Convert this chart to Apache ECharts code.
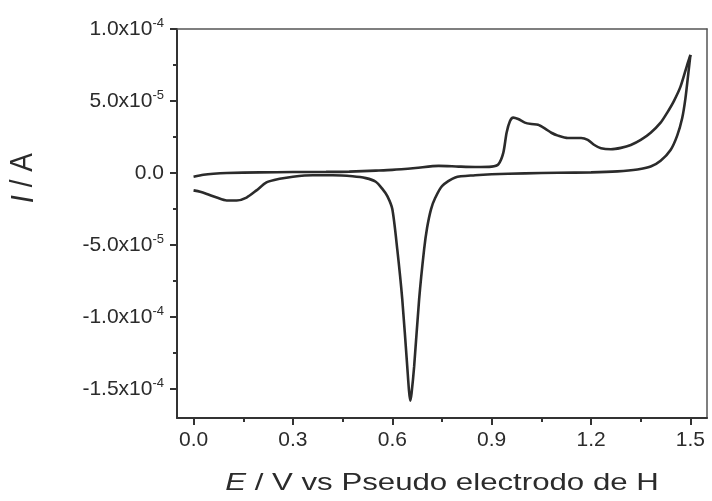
<!DOCTYPE html>
<html>
<head>
<meta charset="utf-8">
<script src="https://cdn.jsdelivr.net/npm/echarts@6/dist/echarts.min.js"></script>
<style>
  html, body { margin: 0; padding: 0; background: #fff; }
  #chart { width: 712px; height: 501px; }
</style>
</head>
<body>
<div id="chart"></div>
<script>
// Cyclic voltammogram: current I (A) vs potential E (V vs pseudo H electrode)
// Currents are listed in units of 1e-5 A.
const CURRENT_UNIT = 1e-5;

// Anodic (forward) scan, 0.0 V -> 1.5 V
const anodicE = [0.00, 0.03, 0.06, 0.10, 0.20, 0.30, 0.40, 0.47, 0.55, 0.60, 0.67, 0.74, 0.80, 0.85,
  0.90, 0.92, 0.935, 0.945, 0.955, 0.965, 0.98, 1.00, 1.02, 1.04, 1.06, 1.08, 1.10, 1.13, 1.17,
  1.19, 1.21, 1.23, 1.26, 1.29, 1.32, 1.35, 1.38, 1.41, 1.43, 1.45, 1.47, 1.49, 1.50];
const anodicI = [-0.25, -0.12, -0.05, 0.00, 0.05, 0.07, 0.08, 0.10, 0.17, 0.22, 0.35, 0.50, 0.45, 0.42,
  0.45, 0.60, 1.40, 2.80, 3.60, 3.85, 3.75, 3.50, 3.40, 3.35, 3.10, 2.80, 2.60, 2.43, 2.43,
  2.30, 1.95, 1.72, 1.65, 1.75, 1.95, 2.30, 2.80, 3.50, 4.20, 5.00, 6.00, 7.50, 8.20];

// Cathodic (reverse) scan, 1.5 V -> 0.0 V
const cathodicE = [1.50, 1.495, 1.485, 1.475, 1.46, 1.44, 1.41, 1.38, 1.34, 1.28, 1.20, 1.10, 1.00,
  0.90, 0.85, 0.79, 0.75, 0.73, 0.717, 0.705, 0.696, 0.681, 0.666, 0.658, 0.654, 0.650, 0.645,
  0.63, 0.615, 0.60, 0.585, 0.57, 0.55, 0.52, 0.48, 0.42, 0.36, 0.30, 0.26, 0.22, 0.19, 0.16,
  0.13, 0.10, 0.07, 0.04, 0.02, 0.00];
const cathodicI = [8.20, 7.20, 5.20, 3.80, 2.60, 1.60, 0.85, 0.45, 0.25, 0.12, 0.05, 0.02, -0.02,
  -0.08, -0.15, -0.30, -0.90, -1.70, -2.50, -3.80, -5.30, -8.75, -13.4, -15.3, -15.8, -15.0, -13.4,
  -8.75, -5.30, -2.50, -1.60, -1.10, -0.60, -0.35, -0.22, -0.15, -0.15, -0.25, -0.40, -0.65, -1.20, -1.70,
  -1.90, -1.90, -1.70, -1.45, -1.30, -1.20];

// Axis tick positions
const xMajorTicks = [0.0, 0.3, 0.6, 0.9, 1.2, 1.5];
const xMinorTicks = [0.15, 0.45, 0.75, 1.05, 1.35];
const yMajorTicks = [-1.5e-4, -1.0e-4, -5.0e-5, 0, 5.0e-5, 1.0e-4];
const yMinorTicks = [-1.25e-4, -7.5e-5, -2.5e-5, 2.5e-5, 7.5e-5];

const xRange = [-0.05, 1.55];
const yRange = [-1.7e-4, 1.0e-4];

const toPoints = (es, is) => es.map((e, k) => [e, is[k] * CURRENT_UNIT]);

const ink = '#2b2b2b';
const font = 'Liberation Sans, Arial, sans-serif';

function sciLabel(v) {
  if (Math.abs(v) < 1e-12) return '{m|0.0}';
  const exp = Math.floor(Math.log10(Math.abs(v)) + 1e-9);
  const mant = v / Math.pow(10, exp);
  return '{m|' + mant.toFixed(1) + 'x10}{s|' + exp + '}';
}

const chart = echarts.init(document.getElementById('chart'), null, { renderer: 'canvas' });

const hiddenAxisParts = {
  axisLabel: { show: false },
  splitLine: { show: false }
};

chart.setOption({
  animation: false,
  backgroundColor: '#ffffff',
  grid: { left: 177, right: 5, top: 29, bottom: 83 },
  xAxis: [
    {
      type: 'value', position: 'bottom', min: xRange[0], max: xRange[1],
      axisLine: { show: true, onZero: false, lineStyle: { color: '#333', width: 2 } },
      axisTick: { show: true, customValues: xMajorTicks, length: 7, inside: false, lineStyle: { color: '#333', width: 2 } },
      axisLabel: {
        customValues: xMajorTicks, margin: 12, color: ink, fontSize: 21, fontFamily: font,
        formatter: v => v.toFixed(1)
      },
      splitLine: { show: false }
    },
    {
      type: 'value', position: 'bottom', min: xRange[0], max: xRange[1],
      axisLine: { show: false, onZero: false },
      axisTick: { show: true, customValues: xMinorTicks, length: 4, lineStyle: { color: '#333', width: 2 } },
      ...hiddenAxisParts
    },
    {
      type: 'value', position: 'top', min: xRange[0], max: xRange[1],
      axisLine: { show: true, onZero: false, lineStyle: { color: '#555', width: 1.5 } },
      axisTick: { show: false },
      ...hiddenAxisParts
    }
  ],
  yAxis: [
    {
      type: 'value', position: 'left', min: yRange[0], max: yRange[1],
      axisLine: { show: true, onZero: false, lineStyle: { color: '#333', width: 2 } },
      axisTick: { show: true, customValues: yMajorTicks, length: 7, inside: false, lineStyle: { color: '#333', width: 2 } },
      axisLabel: {
        customValues: yMajorTicks, margin: 13, color: ink, fontFamily: font,
        formatter: sciLabel,
        rich: {
          m: { fontSize: 21, fontFamily: font, color: ink, lineHeight: 24 },
          s: { fontSize: 13, fontFamily: font, color: ink, verticalAlign: 'top', lineHeight: 14 }
        }
      },
      splitLine: { show: false }
    },
    {
      type: 'value', position: 'left', min: yRange[0], max: yRange[1],
      axisLine: { show: false, onZero: false },
      axisTick: { show: true, customValues: yMinorTicks, length: 4, lineStyle: { color: '#333', width: 2 } },
      ...hiddenAxisParts
    },
    {
      type: 'value', position: 'right', min: yRange[0], max: yRange[1],
      axisLine: { show: true, onZero: false, lineStyle: { color: '#555', width: 1.5 } },
      axisTick: { show: false },
      ...hiddenAxisParts
    }
  ],
  graphic: [
    {
      type: 'text', x: 442, y: 483, scaleX: 1.3,
      style: {
        text: '{i|E} / V vs Pseudo electrodo de H',
        font: '24px ' + font, fill: ink, align: 'center', verticalAlign: 'middle',
        rich: { i: { fontStyle: 'italic', fontSize: 24, fontFamily: font, fill: ink } }
      }
    },
    {
      type: 'text', x: 24, y: 178, rotation: Math.PI / 2, scaleY: 1.1,
      style: {
        text: '{i|I} / A',
        font: '28px ' + font, fill: ink, align: 'center', verticalAlign: 'middle',
        rich: { i: { fontStyle: 'italic', fontSize: 28, fontFamily: font, fill: ink } }
      }
    }
  ],
  series: [
    {
      name: 'anodic', type: 'line', xAxisIndex: 0, yAxisIndex: 0,
      data: toPoints(anodicE, anodicI), showSymbol: false, smooth: 0.25,
      lineStyle: { color: ink, width: 2.6 }
    },
    {
      name: 'cathodic', type: 'line', xAxisIndex: 0, yAxisIndex: 0,
      data: toPoints(cathodicE, cathodicI), showSymbol: false, smooth: 0.25,
      lineStyle: { color: ink, width: 2.6 }
    }
  ]
});
</script>
</body>
</html>
